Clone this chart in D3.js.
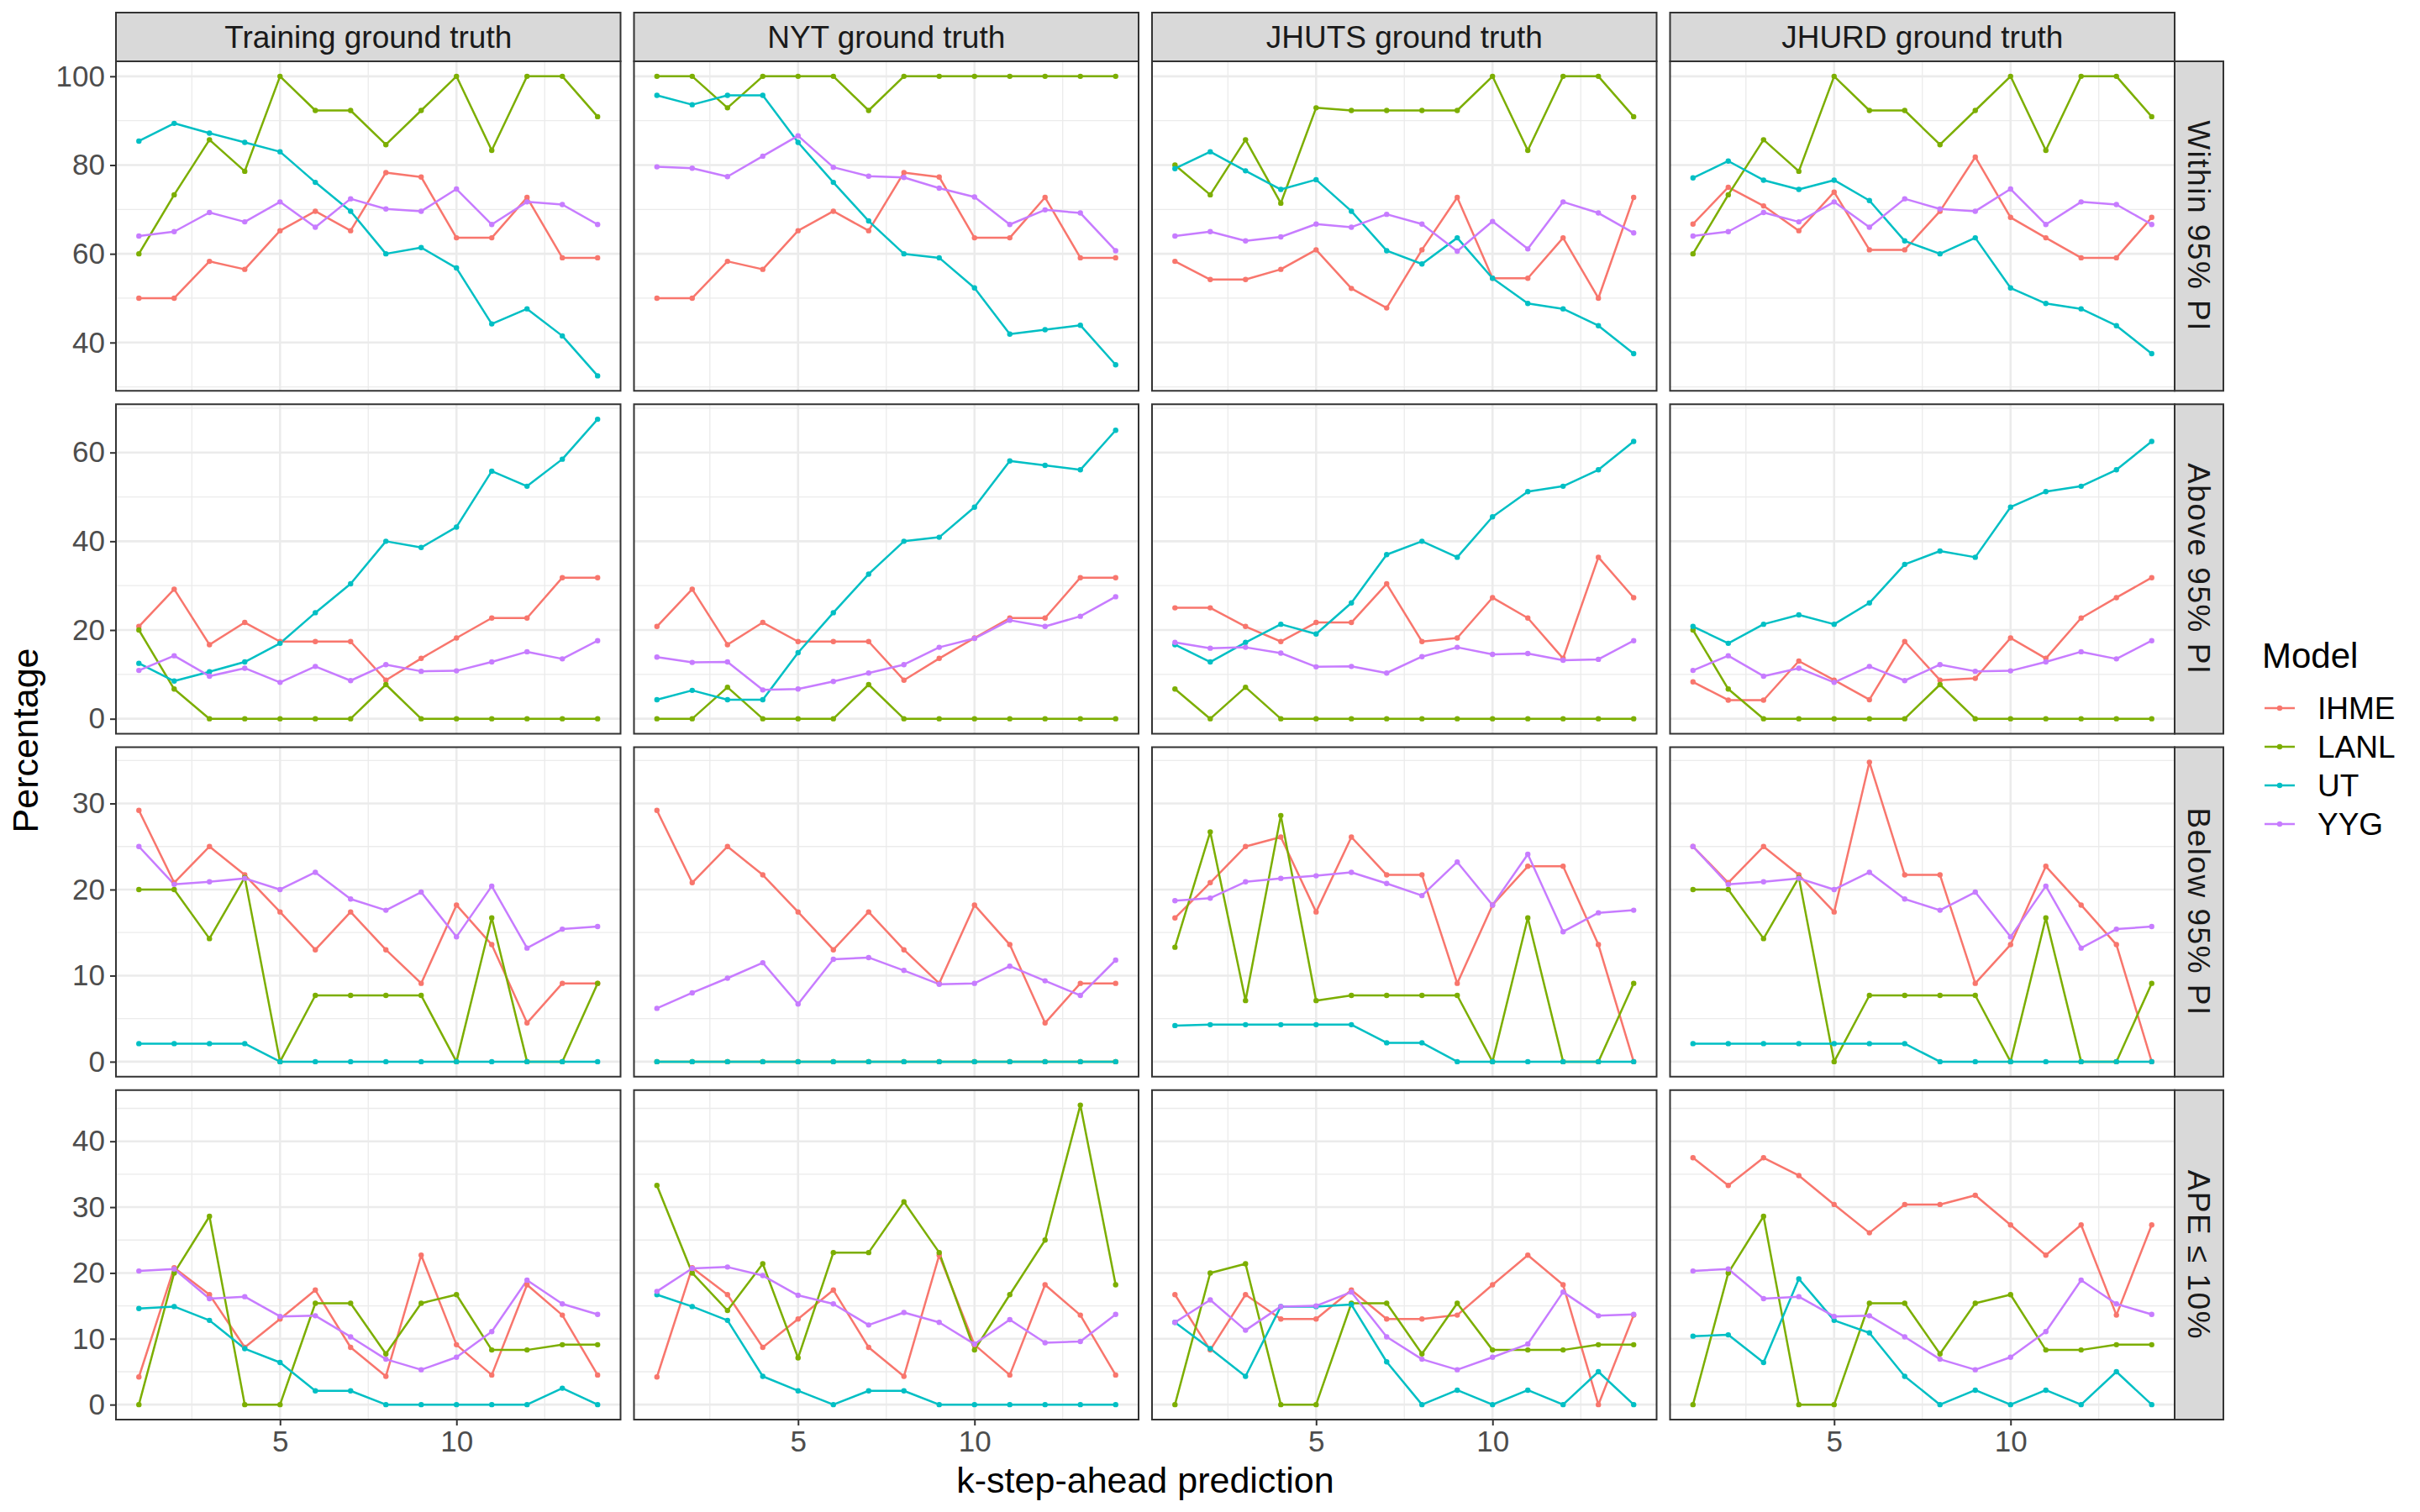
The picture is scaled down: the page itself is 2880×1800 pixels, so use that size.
<!DOCTYPE html>
<html>
<head>
<meta charset="utf-8">
<title>k-step-ahead prediction</title>
<style>
  body, html { margin: 0; padding: 0; background: #fff; }
  text { font-family: "Liberation Sans", Arial, Helvetica, sans-serif; }
</style>
</head>
<body>
<svg id="svg" width="2880" height="1800"></svg>
<script src="https://d3js.org/d3.v7.min.js"></script>
<script>
// ---- data ----
const steps = [1, 2, 3, 4, 5, 6, 7, 8, 9, 10, 11, 12, 13, 14]
const models = ['IHME', 'LANL', 'UT', 'YYG']
const colors = ['#F8766D', '#7CAE00', '#00BFC4', '#C77CFF']
const truths = ['Training ground truth', 'NYT ground truth', 'JHUTS ground truth', 'JHURD ground truth']
const metrics = ['Within 95% PI', 'Above 95% PI', 'Below 95% PI', 'APE \u2264 10%']
const yTitle = 'Percentage'
const xTitle = 'k-step-ahead prediction'
const legendTitle = 'Model'
const xTicks = [5, 10]

// each panel: rows are IHME, LANL, UT, YYG
const withinTraining = [
  [50, 50, 58.3, 56.5, 65.2, 69.6, 65.2, 78.3, 77.3, 63.6, 63.6, 72.7, 59.1, 59.1],
  [60, 73.3, 85.7, 78.6, 100, 92.3, 92.3, 84.6, 92.3, 100, 83.3, 100, 100, 90.9],
  [85.4, 89.4, 87.2, 85.1, 83.0, 76.1, 69.6, 60.0, 61.4, 56.8, 44.2, 47.6, 41.5, 32.5],
  [64.0, 65.0, 69.3, 67.2, 71.7, 66.0, 72.4, 70.1, 69.6, 74.6, 66.6, 71.7, 71.1, 66.6]
]
const withinNYT = [
  [50, 50, 58.3, 56.5, 65.2, 69.6, 65.2, 78.3, 77.3, 63.6, 63.6, 72.7, 59.1, 59.1],
  [100, 100, 92.9, 100, 100, 100, 92.3, 100, 100, 100, 100, 100, 100, 100],
  [95.7, 93.6, 95.7, 95.7, 85.1, 76.1, 67.4, 60.0, 59.1, 52.3, 41.9, 42.9, 43.9, 35.0],
  [79.6, 79.3, 77.4, 82.0, 86.6, 79.5, 77.5, 77.2, 74.8, 72.8, 66.6, 69.9, 69.2, 60.7]
]
const withinJHUTS = [
  [58.3, 54.2, 54.2, 56.5, 60.9, 52.2, 47.8, 60.9, 72.7, 54.5, 54.5, 63.6, 50.0, 72.7],
  [80, 73.3, 85.7, 71.4, 92.9, 92.3, 92.3, 92.3, 92.3, 100, 83.3, 100, 100, 90.9],
  [79.2, 83.0, 78.7, 74.5, 76.7, 69.6, 60.7, 57.7, 63.6, 54.5, 48.8, 47.6, 43.8, 37.5],
  [64.0, 65.0, 62.9, 63.8, 66.7, 66.0, 68.9, 66.7, 60.6, 67.3, 61.1, 71.7, 69.2, 64.7]
]
const withinJHURD = [
  [66.7, 75.0, 70.8, 65.2, 73.9, 60.9, 60.9, 69.6, 81.8, 68.2, 63.6, 59.1, 59.1, 68.2],
  [60, 73.3, 85.7, 78.6, 100, 92.3, 92.3, 84.6, 92.3, 100, 83.3, 100, 100, 90.9],
  [77.1, 80.9, 76.6, 74.5, 76.6, 72.0, 62.9, 60.0, 63.6, 52.3, 48.8, 47.6, 43.8, 37.5],
  [64.0, 65.0, 69.3, 67.2, 71.7, 66.0, 72.4, 70.1, 69.6, 74.6, 66.6, 71.7, 71.1, 66.6]
]

const aboveTraining = [
  [20.8, 29.2, 16.7, 21.7, 17.4, 17.4, 17.4, 8.7, 13.6, 18.2, 22.7, 22.7, 31.8, 31.8],
  [20, 6.7, 0, 0, 0, 0, 0, 7.7, 0, 0, 0, 0, 0, 0],
  [12.5, 8.5, 10.6, 12.8, 17.0, 23.9, 30.4, 40.0, 38.6, 43.2, 55.8, 52.4, 58.5, 67.5],
  [10.9, 14.2, 9.6, 11.4, 8.2, 11.8, 8.6, 12.2, 10.7, 10.8, 12.8, 15.1, 13.5, 17.6]
]
const aboveNYT = [
  [20.8, 29.2, 16.7, 21.7, 17.4, 17.4, 17.4, 8.7, 13.6, 18.2, 22.7, 22.7, 31.8, 31.8],
  [0, 0, 7.1, 0, 0, 0, 7.7, 0, 0, 0, 0, 0, 0, 0],
  [4.3, 6.4, 4.3, 4.3, 14.9, 23.9, 32.6, 40.0, 40.9, 47.7, 58.1, 57.1, 56.1, 65.0],
  [13.9, 12.7, 12.8, 6.5, 6.7, 8.4, 10.3, 12.2, 16.1, 18.1, 22.2, 20.8, 23.1, 27.5]
]
const aboveJHUTS = [
  [25.0, 25.0, 20.8, 17.4, 21.7, 21.7, 30.4, 17.4, 18.2, 27.3, 22.7, 13.6, 36.4, 27.3],
  [6.7, 0, 7.1, 0, 0, 0, 0, 0, 0, 0, 0, 0, 0, 0],
  [16.7, 12.8, 17.2, 21.3, 19.1, 26.1, 37.0, 40.0, 36.4, 45.5, 51.2, 52.4, 56.1, 62.5],
  [17.2, 15.9, 16.1, 14.8, 11.7, 11.8, 10.3, 14.0, 16.1, 14.5, 14.7, 13.2, 13.4, 17.6]
]
const aboveJHURD = [
  [8.3, 4.2, 4.2, 13.0, 8.7, 4.3, 17.4, 8.7, 9.1, 18.2, 13.6, 22.7, 27.3, 31.8],
  [20, 6.7, 0, 0, 0, 0, 0, 7.7, 0, 0, 0, 0, 0, 0],
  [20.8, 17.0, 21.3, 23.4, 21.3, 26.1, 34.8, 37.8, 36.4, 47.7, 51.2, 52.4, 56.1, 62.5],
  [10.9, 14.2, 9.6, 11.4, 8.2, 11.8, 8.6, 12.2, 10.7, 10.8, 12.8, 15.1, 13.5, 17.6]
]

const belowTraining = [
  [29.2, 20.8, 25.0, 21.7, 17.4, 13.0, 17.4, 13.0, 9.1, 18.2, 13.6, 4.5, 9.1, 9.1],
  [20, 20, 14.3, 21.4, 0, 7.7, 7.7, 7.7, 7.7, 0, 16.7, 0, 0, 9.1],
  [2.1, 2.1, 2.1, 2.1, 0, 0, 0, 0, 0, 0, 0, 0, 0, 0],
  [25.0, 20.6, 20.9, 21.3, 20.0, 22.0, 18.9, 17.6, 19.7, 14.5, 20.4, 13.2, 15.4, 15.7]
]
const belowNYT = [
  [29.2, 20.8, 25.0, 21.7, 17.4, 13.0, 17.4, 13.0, 9.1, 18.2, 13.6, 4.5, 9.1, 9.1],
  [0, 0, 0, 0, 0, 0, 0, 0, 0, 0, 0, 0, 0, 0],
  [0, 0, 0, 0, 0, 0, 0, 0, 0, 0, 0, 0, 0, 0],
  [6.2, 8.0, 9.7, 11.5, 6.7, 11.9, 12.1, 10.6, 9.0, 9.1, 11.1, 9.4, 7.7, 11.8]
]
const belowJHUTS = [
  [16.7, 20.8, 25.0, 26.1, 17.4, 26.1, 21.7, 21.7, 9.1, 18.2, 22.7, 22.7, 13.6, 0],
  [13.3, 26.7, 7.1, 28.6, 7.1, 7.7, 7.7, 7.7, 7.7, 0, 16.7, 0, 0, 9.1],
  [4.2, 4.3, 4.3, 4.3, 4.3, 4.3, 2.2, 2.2, 0, 0, 0, 0, 0, 0],
  [18.7, 19.0, 20.9, 21.3, 21.6, 22.0, 20.7, 19.3, 23.2, 18.2, 24.1, 15.1, 17.3, 17.6]
]
const belowJHURD = [
  [25.0, 20.8, 25.0, 21.7, 17.4, 34.8, 21.7, 21.7, 9.1, 13.6, 22.7, 18.2, 13.6, 0],
  [20, 20, 14.3, 21.4, 0, 7.7, 7.7, 7.7, 7.7, 0, 16.7, 0, 0, 9.1],
  [2.1, 2.1, 2.1, 2.1, 2.1, 2.1, 2.1, 0, 0, 0, 0, 0, 0, 0],
  [25.0, 20.6, 20.9, 21.3, 20.0, 22.0, 18.9, 17.6, 19.7, 14.5, 20.4, 13.2, 15.4, 15.7]
]

const apeTraining = [
  [4.2, 20.8, 16.7, 8.7, 13.0, 17.4, 8.7, 4.3, 22.7, 9.1, 4.5, 18.2, 13.6, 4.5],
  [0, 20.0, 28.6, 0, 0, 15.4, 15.4, 7.7, 15.4, 16.7, 8.3, 8.3, 9.1, 9.1],
  [14.6, 14.9, 12.8, 8.5, 6.4, 2.1, 2.1, 0, 0, 0, 0, 0, 2.5, 0],
  [20.3, 20.6, 16.1, 16.4, 13.4, 13.5, 10.3, 6.9, 5.3, 7.2, 11.1, 18.9, 15.3, 13.7]
]
const apeNYT = [
  [4.2, 20.8, 16.7, 8.7, 13.0, 17.4, 8.7, 4.3, 22.7, 9.1, 4.5, 18.2, 13.6, 4.5],
  [33.3, 20.0, 14.3, 21.4, 7.1, 23.1, 23.1, 30.8, 23.1, 8.3, 16.7, 25.0, 45.5, 18.2],
  [16.7, 14.9, 12.8, 4.3, 2.1, 0, 2.1, 2.1, 0, 0, 0, 0, 0, 0],
  [17.2, 20.7, 20.9, 19.6, 16.6, 15.3, 12.1, 14.0, 12.5, 9.2, 12.9, 9.4, 9.6, 13.7]
]
const apeJHUTS = [
  [16.7, 8.3, 16.7, 13.0, 13.0, 17.4, 13.0, 13.0, 13.6, 18.2, 22.7, 18.2, 0, 13.6],
  [0, 20.0, 21.4, 0, 0, 15.4, 15.4, 7.7, 15.4, 8.3, 8.3, 8.3, 9.1, 9.1],
  [12.5, 8.5, 4.3, 14.9, 14.9, 15.2, 6.5, 0, 2.2, 0, 2.2, 0, 5.0, 0],
  [12.5, 15.9, 11.3, 14.9, 15.0, 17.1, 10.3, 6.9, 5.3, 7.2, 9.2, 17.1, 13.5, 13.7]
]
const apeJHURD = [
  [37.5, 33.3, 37.5, 34.8, 30.4, 26.1, 30.4, 30.4, 31.8, 27.3, 22.7, 27.3, 13.6, 27.3],
  [0, 20.0, 28.6, 0, 0, 15.4, 15.4, 7.7, 15.4, 16.7, 8.3, 8.3, 9.1, 9.1],
  [10.4, 10.6, 6.4, 19.1, 12.8, 10.9, 4.3, 0, 2.2, 0, 2.2, 0, 5.0, 0],
  [20.3, 20.6, 16.1, 16.4, 13.4, 13.5, 10.3, 6.9, 5.3, 7.2, 11.1, 18.9, 15.3, 13.7]
]

// rows = metrics, columns = ground truths
const panels = [
  [withinTraining, withinNYT, withinJHUTS, withinJHURD],
  [aboveTraining, aboveNYT, aboveJHUTS, aboveJHURD],
  [belowTraining, belowNYT, belowJHUTS, belowJHURD],
  [apeTraining, apeNYT, apeJHUTS, apeJHURD]
]

// ---- layout ----
const plotLeft = 138, plotRight = 2588, plotTop = 73, plotBottom = 1690, gap = 16
const pw = (plotRight - plotLeft - 3 * gap) / 4
const ph = (plotBottom - plotTop - 3 * gap) / 4
const stripTop = 15, stripW = 58
const grid = '#EBEBEB', ink = '#333333'

const svg = d3.select('#svg')
svg.append('rect').attr('width', 2880).attr('height', 1800).attr('fill', '#fff')

// x scale shared by every panel, 5% expansion like ggplot
const xPad = (d3.max(steps) - d3.min(steps)) * 0.05
const x = d3.scaleLinear()
  .domain([d3.min(steps) - xPad, d3.max(steps) + xPad])
  .range([0, pw])
const xMinor = [2.5, 7.5, 12.5]

const line = (y) => d3.line().x((d, i) => x(steps[i])).y(d => y(d))

panels.forEach((row, r) => {
  const py = plotTop + r * (ph + gap)
  // free y per row
  const all = row.flat(2)
  const lo = d3.min(all), hi = d3.max(all)
  const pad = (hi - lo) * 0.05
  const y = d3.scaleLinear().domain([lo - pad, hi + pad]).range([ph, 0])
  const major = y.ticks(5)
  const step = major[1] - major[0]
  const minor = [major[0] - step / 2].concat(major.map(t => t + step / 2))
    .filter(t => t > y.domain()[0] && t < y.domain()[1])

  row.forEach((series, c) => {
    const px = plotLeft + c * (pw + gap)
    const g = svg.append('g').attr('transform', `translate(${px},${py})`)

    g.append('rect').attr('width', pw).attr('height', ph).attr('fill', '#fff')

    // minor grid
    g.selectAll('.ymin').data(minor).enter().append('line')
      .attr('x1', 0).attr('x2', pw).attr('y1', d => y(d)).attr('y2', d => y(d))
      .attr('stroke', grid).attr('stroke-width', 1.3)
    g.selectAll('.xmin').data(xMinor).enter().append('line')
      .attr('y1', 0).attr('y2', ph).attr('x1', d => x(d)).attr('x2', d => x(d))
      .attr('stroke', grid).attr('stroke-width', 1.3)
    // major grid
    g.selectAll('.ymaj').data(major).enter().append('line')
      .attr('x1', 0).attr('x2', pw).attr('y1', d => y(d)).attr('y2', d => y(d))
      .attr('stroke', grid).attr('stroke-width', 2.6)
    g.selectAll('.xmaj').data(xTicks).enter().append('line')
      .attr('y1', 0).attr('y2', ph).attr('x1', d => x(d)).attr('x2', d => x(d))
      .attr('stroke', grid).attr('stroke-width', 2.6)

    // lines first, then points (geom_line + geom_point)
    series.forEach((vals, m) => {
      g.append('path').datum(vals)
        .attr('d', line(y))
        .attr('fill', 'none')
        .attr('stroke', colors[m])
        .attr('stroke-width', 2.5)
        .attr('stroke-linejoin', 'round')
    })
    series.forEach((vals, m) => {
      g.selectAll(null).data(vals).enter().append('circle')
        .attr('cx', (d, i) => x(steps[i]))
        .attr('cy', d => y(d))
        .attr('r', 3.2)
        .attr('fill', colors[m])
    })

    g.append('rect').attr('width', pw).attr('height', ph)
      .attr('fill', 'none').attr('stroke', ink).attr('stroke-width', 2)

    // y axis on first column
    if (c === 0) {
      const ax = g.append('g').call(d3.axisLeft(y).tickValues(major).tickSize(7).tickPadding(6))
      ax.select('.domain').remove()
      ax.selectAll('line').attr('stroke', ink).attr('stroke-width', 2)
      ax.selectAll('text').attr('fill', '#4D4D4D').attr('font-size', 35)
        .attr('font-family', '"Liberation Sans", Arial, sans-serif')
    }
    // x axis on bottom row
    if (r === panels.length - 1) {
      const ax = g.append('g').attr('transform', `translate(0,${ph})`)
        .call(d3.axisBottom(x).tickValues(xTicks).tickSize(7).tickPadding(6))
      ax.select('.domain').remove()
      ax.selectAll('line').attr('stroke', ink).attr('stroke-width', 2)
      ax.selectAll('text').attr('fill', '#4D4D4D').attr('font-size', 35)
        .attr('font-family', '"Liberation Sans", Arial, sans-serif')
    }
    // top strips
    if (r === 0) {
      svg.append('rect').attr('x', px).attr('y', stripTop)
        .attr('width', pw).attr('height', plotTop - stripTop)
        .attr('fill', '#D9D9D9').attr('stroke', ink).attr('stroke-width', 2)
      svg.append('text').attr('x', px + pw / 2).attr('y', (stripTop + plotTop) / 2)
        .attr('dy', '0.36em').attr('text-anchor', 'middle')
        .attr('font-size', 37).attr('fill', '#1A1A1A')
        .text(truths[c])
    }
  })

  // right strip
  svg.append('rect').attr('x', plotRight).attr('y', py)
    .attr('width', stripW).attr('height', ph)
    .attr('fill', '#D9D9D9').attr('stroke', ink).attr('stroke-width', 2)
  svg.append('text')
    .attr('transform', `translate(${plotRight + stripW / 2},${py + ph / 2}) rotate(90)`)
    .attr('dy', '0.36em').attr('text-anchor', 'middle')
    .attr('font-size', 37).attr('fill', '#1A1A1A')
    .attr('letter-spacing', 1.5)
    .text(metrics[r])
})

// axis titles
svg.append('text').attr('x', (plotLeft + plotRight) / 2).attr('y', 1777)
  .attr('text-anchor', 'middle').attr('font-size', 43).attr('fill', '#000')
  .text(xTitle)
svg.append('text').attr('transform', `translate(45,${(plotTop + plotBottom) / 2}) rotate(-90)`)
  .attr('text-anchor', 'middle').attr('font-size', 43).attr('fill', '#000')
  .text(yTitle)

// legend
const lg = svg.append('g').attr('transform', 'translate(2692,0)')
lg.append('text').attr('x', 0).attr('y', 795).attr('font-size', 42).attr('fill', '#000').text(legendTitle)
models.forEach((m, i) => {
  const cy = 843 + i * 46
  lg.append('line').attr('x1', 3).attr('x2', 39).attr('y1', cy).attr('y2', cy)
    .attr('stroke', colors[i]).attr('stroke-width', 2.5)
  lg.append('circle').attr('cx', 21).attr('cy', cy).attr('r', 3.2).attr('fill', colors[i])
  lg.append('text').attr('x', 66).attr('y', cy).attr('dy', '0.36em')
    .attr('font-size', 37).attr('fill', '#000').text(m)
})
</script>
</body>
</html>
